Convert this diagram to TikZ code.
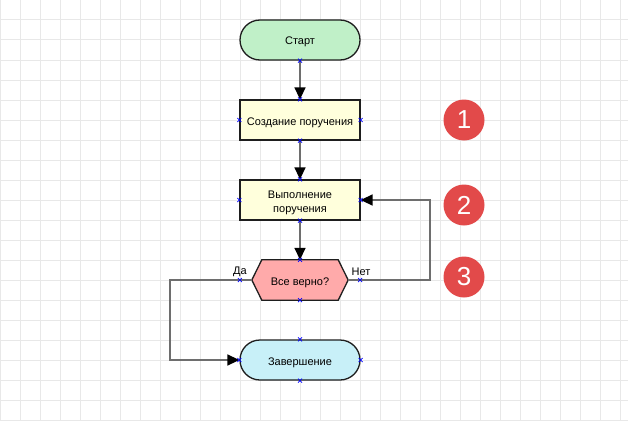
\documentclass[tikz,border=0pt]{standalone}
\usepackage{fontspec}
\setmainfont{Liberation Sans}
\usetikzlibrary{arrows.meta}

\definecolor{gridline}{RGB}{232,232,232}
\definecolor{edge}{RGB}{30,30,30}
\definecolor{wire}{RGB}{110,110,110}
\definecolor{startfill}{RGB}{192,240,200}
\definecolor{taskfill}{RGB}{255,255,220}
\definecolor{checkfill}{RGB}{255,170,170}
\definecolor{endfill}{RGB}{200,240,248}
\definecolor{badgefill}{RGB}{226,74,74}

\newcommand\pinx[1]{\draw[pinmark] (#1) +(-2,-2) -- +(2,2) +(-2,2) -- +(2,-2);}

\begin{document}
\begin{tikzpicture}[x=1pt,y=-1pt]
\tikzstyle{every node}=[font=\fontsize{11}{13.5}\selectfont]
\tikzstyle{box}=[
	draw=edge, line width=1.3pt,
	minimum width=120pt, minimum height=40pt,
	inner sep=0pt, align=center ]
\tikzstyle{oneline}=[text height=11pt, text depth=1pt]
\tikzstyle{terminal}=[box, oneline, rounded corners=20pt]
\tikzstyle{task}=[box, fill=taskfill]
\tikzstyle{checkbox}=[minimum width=120pt, minimum height=40pt, inner sep=0pt]
\tikzstyle{conn}=[draw=wire, line width=1.6pt,
	-{Triangle[length=12pt,width=11pt,fill=black,color=black]}]
\tikzstyle{pinmark}=[draw=blue, line width=0.7pt]
\tikzstyle{badge}=[circle, fill=badgefill, minimum size=41pt, inner sep=0pt,
	text=white, font=\fontsize{26}{26}\selectfont]
\tikzstyle{lbl}=[inner sep=0pt]

% grid
\useasboundingbox (0,0) rectangle (628,420);
\fill[white] (0,0) rectangle (628,420);
\foreach \gx in {0,20,...,620}
	\draw[gridline, line width=1pt] (\gx,0) -- (\gx,420);
\foreach \gy in {0,20,...,420}
	\draw[gridline, line width=1pt] (0,\gy) -- (628,\gy);

% nodes
\node[terminal, fill=startfill] (start) at (300,40) {Старт};
\node[task, oneline] (create) at (300,120) {Создание поручения};
\node[task, text height=24pt, text depth=0pt] (exec) at (300,200) {Выполнение\\поручения};
\node[checkbox] (check) at (300,280) {};
\filldraw[draw=edge, fill=checkfill, line width=1.3pt]
	([xshift=12pt]check.west) -- ([xshift=22pt]check.north west)
	-- ([xshift=-22pt]check.north east) -- ([xshift=-12pt]check.east)
	-- ([xshift=-22pt]check.south east) -- ([xshift=22pt]check.south west)
	-- cycle;
\node[oneline] (checktext) at (check) {Все верно?};
\node[terminal, fill=endfill] (finish) at (300,360) {Завершение};

% connectors
\draw[conn] (start.south) -- (create.north);
\draw[conn] (create.south) -- (exec.north);
\draw[conn] (exec.south) -- (check.north);
\draw[conn] ([xshift=-12pt]check.east) -- ++(82,0) |- (exec.east);
\draw[conn] ([xshift=12pt]check.west) -- ++(-82,0) |- (finish.west);
\node[lbl] (yes) at (240,272) {Да};
\node[lbl] (no) at (361,272) {Нет};

% connection points
\pinx{start.south}
\foreach \n in {create,exec,finish}{
	\pinx{\n.north} \pinx{\n.south} \pinx{\n.west} \pinx{\n.east}
}
\pinx{check.north} \pinx{check.south} \pinx{check.west} \pinx{check.east}

% badges
\node[badge] (one) at (464,120) {1};
\node[badge] (two) at (464,205) {2};
\node[badge] (three) at (464,277) {3};
\end{tikzpicture}
\end{document}
